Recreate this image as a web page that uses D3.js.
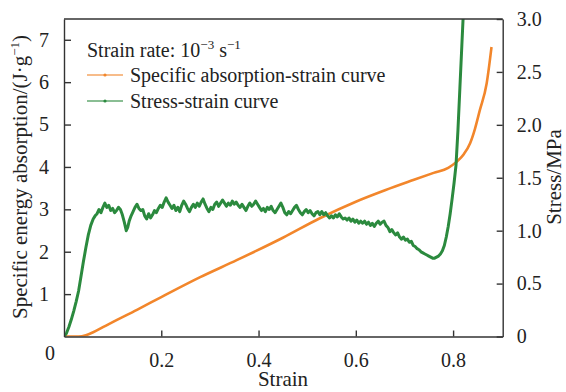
<!DOCTYPE html>
<html>
<head>
<meta charset="utf-8">
<script src="https://cdn.jsdelivr.net/npm/d3@7"></script>
<style>
  body { margin: 0; background: #fff; }
  svg text { font-family: "Liberation Serif", "Times New Roman", Times, "DejaVu Serif", serif; fill: #222; }
</style>
</head>
<body>
<div class="chart"></div>
<script>
// specific energy absorption (J/g) vs strain
const absStrain = [0, 0.03, 0.045, 0.06, 0.08, 0.1, 0.15, 0.2, 0.28, 0.355, 0.45, 0.526, 0.6, 0.66, 0.718, 0.76, 0.79, 0.807, 0.822, 0.835, 0.845, 0.855, 0.869, 0.879];
const absValue  = [0, 0, 0.03, 0.1, 0.22, 0.34, 0.63, 0.93, 1.4, 1.8, 2.33, 2.79, 3.18, 3.45, 3.69, 3.86, 3.98, 4.12, 4.3, 4.56, 4.9, 5.34, 5.97, 6.83];

// stress (MPa) vs strain
const stressStrain = [0, 0.005, 0.01, 0.015, 0.02, 0.025, 0.03, 0.035, 0.04, 0.045, 0.05, 0.055, 0.06, 0.064,
  0.068, 0.072, 0.076, 0.080, 0.084, 0.088, 0.092, 0.096, 0.100, 0.104, 0.108, 0.112, 0.116, 0.120, 0.124, 0.128,
  0.131, 0.134, 0.138, 0.142, 0.146, 0.150, 0.154, 0.158, 0.162, 0.166, 0.170, 0.174, 0.178, 0.182, 0.186, 0.190,
  0.194, 0.198, 0.202, 0.206, 0.210, 0.214, 0.218, 0.222, 0.226, 0.230, 0.234, 0.238, 0.242, 0.246, 0.250, 0.254,
  0.258, 0.262, 0.266, 0.270, 0.274, 0.278, 0.282, 0.286, 0.290, 0.294, 0.298, 0.302, 0.306, 0.310, 0.314, 0.318,
  0.322, 0.326, 0.330, 0.334, 0.338, 0.342, 0.346, 0.350, 0.354, 0.358, 0.362, 0.366, 0.370, 0.374, 0.378, 0.382,
  0.386, 0.390, 0.394, 0.398, 0.402, 0.406, 0.410, 0.414, 0.418, 0.422, 0.426, 0.430, 0.434, 0.438, 0.442, 0.446,
  0.450, 0.454, 0.458, 0.462, 0.466, 0.470, 0.474, 0.478, 0.482, 0.486, 0.490, 0.494, 0.498, 0.502, 0.506, 0.510,
  0.514, 0.518, 0.522, 0.526, 0.530, 0.534, 0.538, 0.542, 0.546, 0.550, 0.554, 0.558, 0.562, 0.566, 0.570, 0.574,
  0.578, 0.582, 0.586, 0.590, 0.594, 0.598, 0.602, 0.606, 0.610, 0.614, 0.618, 0.622, 0.626, 0.630, 0.634, 0.638,
  0.642, 0.646, 0.650, 0.654, 0.658, 0.662, 0.666, 0.670, 0.674, 0.678, 0.682, 0.686, 0.690, 0.694, 0.698, 0.702,
  0.706, 0.710, 0.714, 0.718, 0.722, 0.726, 0.730, 0.734, 0.738, 0.742, 0.746, 0.750, 0.754, 0.758, 0.762, 0.766,
  0.770, 0.774, 0.778, 0.782, 0.786, 0.790, 0.794, 0.798, 0.802, 0.806, 0.810, 0.814, 0.818, 0.822];
const stressValue = [0, 0.03, 0.09, 0.16, 0.24, 0.33, 0.43, 0.57, 0.71, 0.84, 0.96, 1.05, 1.11, 1.14,
  1.16, 1.20, 1.17, 1.22, 1.26, 1.22, 1.24, 1.19, 1.21, 1.17, 1.19, 1.22, 1.20, 1.15, 1.08, 1.00,
  1.03, 1.09, 1.14, 1.18, 1.22, 1.25, 1.21, 1.19, 1.20, 1.14, 1.11, 1.16, 1.12, 1.15, 1.19, 1.17,
  1.21, 1.24, 1.22, 1.27, 1.31, 1.27, 1.24, 1.21, 1.24, 1.19, 1.22, 1.18, 1.24, 1.28, 1.25, 1.21,
  1.18, 1.22, 1.25, 1.22, 1.26, 1.23, 1.27, 1.30, 1.25, 1.21, 1.18, 1.22, 1.20, 1.25, 1.27, 1.23,
  1.26, 1.29, 1.26, 1.23, 1.26, 1.24, 1.28, 1.25, 1.27, 1.24, 1.22, 1.25, 1.22, 1.19, 1.23, 1.26,
  1.23, 1.25, 1.28, 1.25, 1.22, 1.19, 1.21, 1.18, 1.22, 1.20, 1.23, 1.19, 1.17, 1.20, 1.23, 1.26,
  1.22, 1.17, 1.15, 1.18, 1.16, 1.19, 1.22, 1.24, 1.20, 1.17, 1.15, 1.18, 1.20, 1.17, 1.19, 1.16,
  1.14, 1.17, 1.18, 1.15, 1.18, 1.15, 1.17, 1.14, 1.12, 1.14, 1.12, 1.15, 1.13, 1.16, 1.13, 1.11,
  1.12, 1.10, 1.12, 1.09, 1.11, 1.08, 1.10, 1.07, 1.09, 1.07, 1.09, 1.06, 1.08, 1.05, 1.07, 1.04,
  1.07, 1.09, 1.06, 1.08, 1.09, 1.05, 1.03, 0.99, 1.01, 0.98, 0.96, 0.98, 0.94, 0.92, 0.94, 0.91,
  0.92, 0.89, 0.90, 0.86, 0.85, 0.83, 0.82, 0.80, 0.79, 0.78, 0.77, 0.76, 0.75, 0.74, 0.74, 0.75,
  0.76, 0.78, 0.81, 0.86, 0.94, 1.04, 1.16, 1.30, 1.45, 1.62, 1.95, 2.35, 2.75, 3.15];

const xTicks = [0.2, 0.4, 0.6, 0.8];
const leftTicks = [1, 2, 3, 4, 5, 6, 7];
const rightTicks = [0, 0.5, 1.0, 1.5, 2.0, 2.5, 3.0];

const width = 566, height = 392;
const m = { left: 64, right: 502.7, top: 19, bottom: 336.5 };
const orange = "#f2862b", green = "#2b8a3e", axisColor = "#333";
const serif = '"Liberation Serif", "Times New Roman", Times, "DejaVu Serif", serif';

const x = d3.scaleLinear().domain([0, 0.902]).range([m.left, m.right]);
const yL = d3.scaleLinear().domain([0, 7.49]).range([m.bottom, m.top]);
const yR = d3.scaleLinear().domain([0, 3]).range([m.bottom, m.top]);

const svg = d3.select('.chart').append('svg')
    .attr('width', width)
    .attr('height', height)
    .style('font-family', serif);

svg.append('defs').append('clipPath').attr('id', 'plot')
    .append('rect')
    .attr('x', m.left).attr('y', m.top)
    .attr('width', m.right - m.left).attr('height', m.bottom - m.top);

const absData = absStrain.map((s, i) => [s, absValue[i]]);
const stressData = stressStrain.map((s, i) => [s, stressValue[i]]);

const plot = svg.append('g').attr('clip-path', 'url(#plot)');

plot.append('path')
    .datum(absData)
    .attr('fill', 'none')
    .attr('stroke', orange)
    .attr('stroke-width', 2.6)
    .attr('d', d3.line().x(d => x(d[0])).y(d => yL(d[1])).curve(d3.curveMonotoneX));

plot.append('path')
    .datum(stressData)
    .attr('fill', 'none')
    .attr('stroke', green)
    .attr('stroke-width', 3)
    .attr('stroke-linejoin', 'round')
    .attr('d', d3.line().x(d => x(d[0])).y(d => yR(d[1])));

// axes (ticks pointing inward)
const fs = 20;
const gx = svg.append('g').attr('transform', `translate(0,${m.bottom})`)
    .call(d3.axisBottom(x).tickValues(xTicks).tickSizeInner(-6).tickSizeOuter(0).tickPadding(16).tickFormat(d3.format('.1f')));
const gl = svg.append('g').attr('transform', `translate(${m.left},0)`)
    .call(d3.axisLeft(yL).tickValues(leftTicks).tickSizeInner(-7).tickSizeOuter(0).tickPadding(15).tickFormat(d3.format('d')));
const gr = svg.append('g').attr('transform', `translate(${m.right},0)`)
    .call(d3.axisRight(yR).tickValues(rightTicks).tickSizeInner(-6).tickSizeOuter(0).tickPadding(14)
        .tickFormat(d => d === 0 ? '0' : d3.format('.1f')(d)));

[gx, gl, gr].forEach(g => {
    g.attr('font-family', null);
    g.selectAll('path').attr('stroke', axisColor).attr('stroke-width', 1.4);
    g.selectAll('line').attr('stroke', axisColor).attr('stroke-width', 1.4);
    g.selectAll('text').attr('font-size', fs).style('font-family', serif).attr('fill', '#222');
});

// top frame line
svg.append('line')
    .attr('x1', m.left).attr('x2', m.right).attr('y1', m.top).attr('y2', m.top)
    .attr('stroke', axisColor).attr('stroke-width', 1.4);

// origin label
svg.append('text').attr('x', 50).attr('y', 360).attr('text-anchor', 'middle')
    .attr('font-size', fs).text('0');

// axis titles
svg.append('text').attr('x', 283).attr('y', 386).attr('text-anchor', 'middle')
    .attr('font-size', 21).text('Strain');

const yt = svg.append('text')
    .attr('transform', 'translate(27,177) rotate(-90)')
    .attr('text-anchor', 'middle').attr('font-size', 21);
yt.append('tspan').text('Specific energy absorption/(J·g');
yt.append('tspan').attr('font-size', 13).attr('dy', -8).text('−1');
yt.append('tspan').attr('dy', 8).text(')');

svg.append('text')
    .attr('transform', 'translate(561,177) rotate(-90)')
    .attr('text-anchor', 'middle').attr('font-size', 21).text('Stress/MPa');

// legend
const lt = svg.append('text').attr('x', 87).attr('y', 56.5).attr('font-size', 20);
lt.append('tspan').text('Strain rate: 10');
lt.append('tspan').attr('font-size', 13).attr('dy', -8).text('−3');
lt.append('tspan').attr('dy', 8).text(' s');
lt.append('tspan').attr('font-size', 13).attr('dy', -8).text('−1');

const legendItems = [
    { label: 'Specific absorption-strain curve', color: orange, y: 75 },
    { label: 'Stress-strain curve', color: green, y: 101 }
];
const lg = svg.append('g');
legendItems.forEach(d => {
    lg.append('line').attr('x1', 87).attr('x2', 123).attr('y1', d.y).attr('y2', d.y)
        .attr('stroke', d.color).attr('stroke-width', 1.8).attr('opacity', 0.55);
    lg.append('circle').attr('cx', 105).attr('cy', d.y).attr('r', 1.6).attr('fill', d.color);
    lg.append('text').attr('x', 130).attr('y', d.y + 7).attr('font-size', 20).text(d.label);
});
</script>
</body>
</html>
